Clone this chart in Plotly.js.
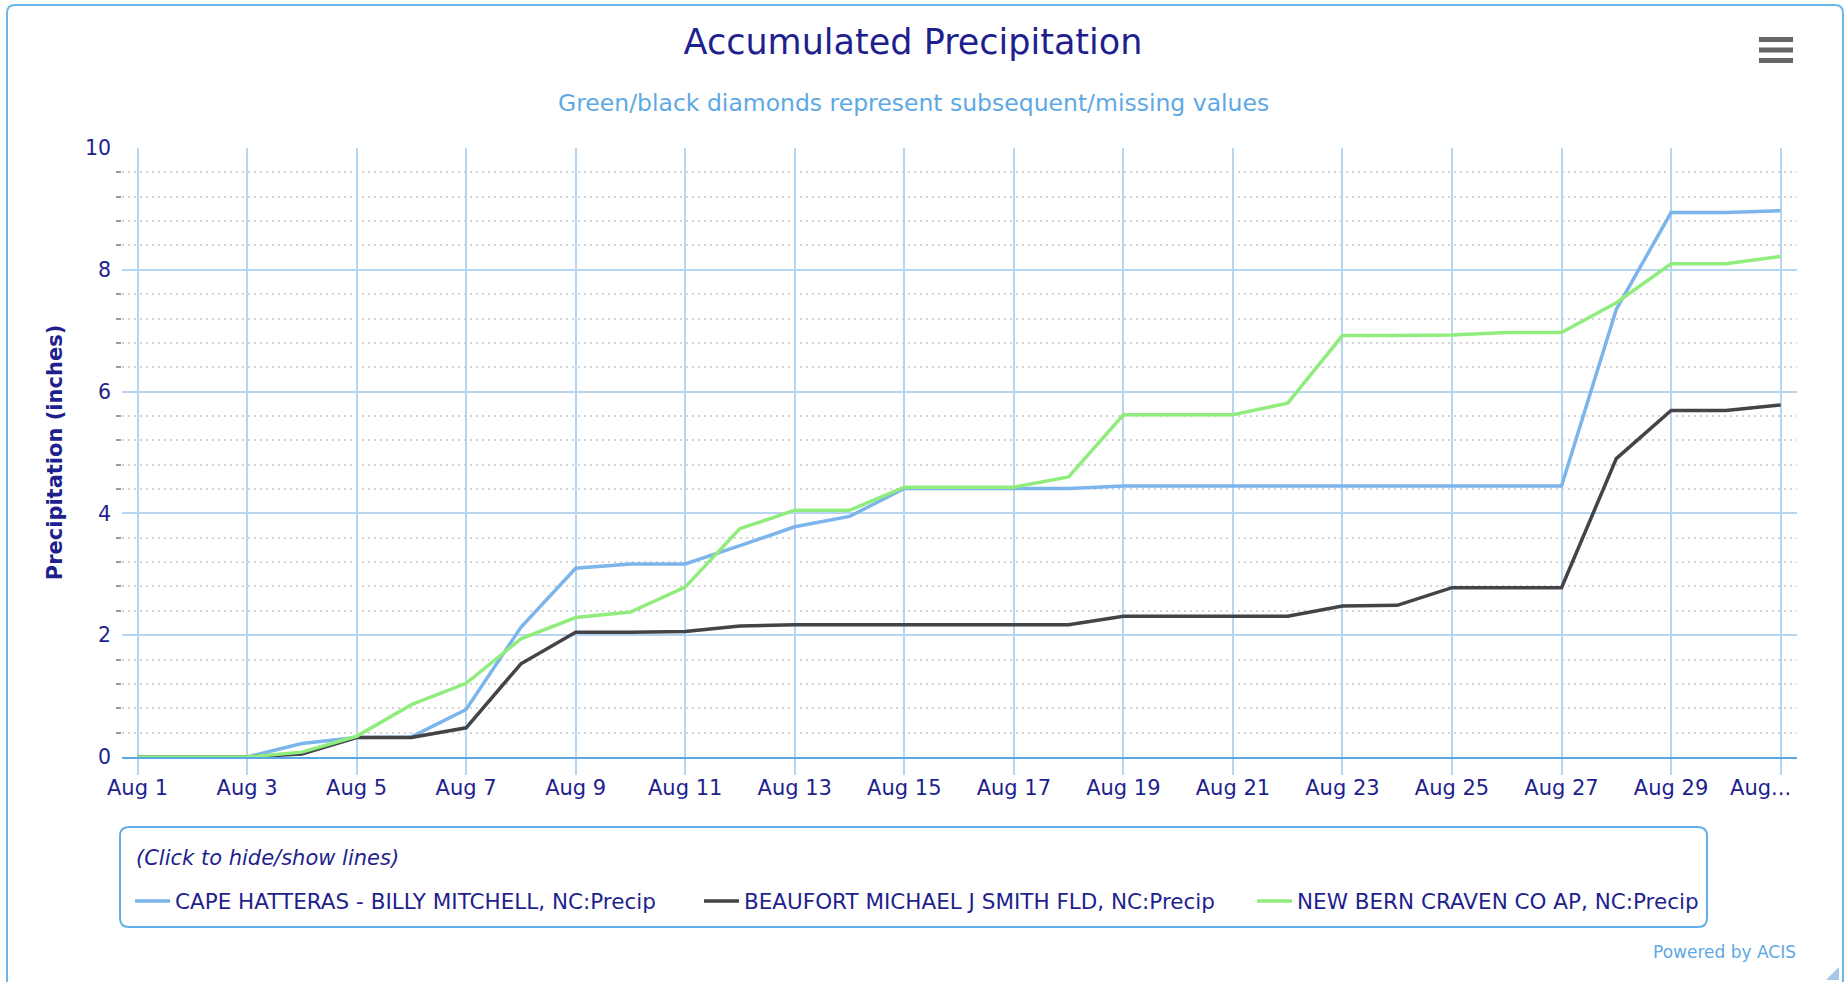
<!DOCTYPE html>
<html>
<head>
<meta charset="utf-8">
<script src="https://cdn.plot.ly/plotly-3.0.1.min.js"></script>
<style>
  html, body { margin: 0; padding: 0; background: #ffffff; }
  #chart { width: 1845px; height: 982px; }
</style>
</head>
<body>
<div id="chart"></div>
<script>
// ---------------- data ----------------
const dates = [
  '2023-08-01','2023-08-02','2023-08-03','2023-08-04','2023-08-05','2023-08-06','2023-08-07','2023-08-08',
  '2023-08-09','2023-08-10','2023-08-11','2023-08-12','2023-08-13','2023-08-14','2023-08-15','2023-08-16',
  '2023-08-17','2023-08-18','2023-08-19','2023-08-20','2023-08-21','2023-08-22','2023-08-23','2023-08-24',
  '2023-08-25','2023-08-26','2023-08-27','2023-08-28','2023-08-29','2023-08-30','2023-08-31'
];
const capeHatteras = [
  0, 0, 0, 0.22, 0.32, 0.33, 0.78, 2.13,
  3.10, 3.17, 3.17, 3.47, 3.78, 3.95, 4.41, 4.41,
  4.41, 4.41, 4.45, 4.45, 4.45, 4.45, 4.45, 4.45,
  4.45, 4.45, 4.45, 7.35, 8.94, 8.94, 8.97
];
const beaufort = [
  0, 0, 0, 0.05, 0.32, 0.32, 0.48, 1.53,
  2.05, 2.05, 2.06, 2.15, 2.17, 2.17, 2.17, 2.17,
  2.17, 2.17, 2.31, 2.31, 2.31, 2.31, 2.48, 2.49,
  2.78, 2.78, 2.78, 4.90, 5.69, 5.69, 5.78
];
const newBern = [
  0, 0, 0, 0.08, 0.34, 0.86, 1.21, 1.94,
  2.29, 2.38, 2.79, 3.75, 4.05, 4.05, 4.43, 4.43,
  4.43, 4.60, 5.62, 5.62, 5.62, 5.81, 6.92, 6.92,
  6.93, 6.97, 6.97, 7.46, 8.10, 8.10, 8.22
];
const seriesNames = [
  'CAPE HATTERAS - BILLY MITCHELL, NC:Precip',
  'BEAUFORT MICHAEL J SMITH FLD, NC:Precip',
  'NEW BERN CRAVEN CO AP, NC:Precip'
];
const tickDates = [
  '2023-08-01','2023-08-03','2023-08-05','2023-08-07','2023-08-09','2023-08-11','2023-08-13','2023-08-15',
  '2023-08-17','2023-08-19','2023-08-21','2023-08-23','2023-08-25','2023-08-27','2023-08-29','2023-08-31'
];
const tickLabels = [
  'Aug 1','Aug 3','Aug 5','Aug 7','Aug 9','Aug 11','Aug 13','Aug 15',
  'Aug 17','Aug 19','Aug 21','Aug 23','Aug 25','Aug 27','Aug 29','Aug...'
];
const titleText = 'Accumulated Precipitation';
const subtitleText = 'Green/black diamonds represent subsequent/missing values';
const yTitleText = 'Precipitation (inches)';
const legendTitleText = '(Click to hide/show lines)';
const creditText = 'Powered by ACIS';

// ---------------- layout helpers ----------------
const W = 1845, H = 982;
const ML = 122, MR = 48, MT = 148, MB = 225;
const PW = W - ML - MR, PH = H - MT - MB;
const PB = H - MB;
const px = p => (p - ML) / PW;
const py = p => (PB - p) / PH;

const FONT = 'DejaVu Sans, Verdana, sans-serif';
const NAVY = '#1f1f8e';
const GRID = '#b6d5f1';
const colors = ['#7cb5ec', '#434348', '#90ed7d'];

// last tick label is pushed left (as the original does to keep it inside the chart)
const shownTickLabels = tickLabels.map((t, i) =>
  i === tickLabels.length - 1 ? t + '\u00a0\u00a0\u00a0\u00a0\u00a0\u00a0' : t);

const seriesData = [capeHatteras, beaufort, newBern];
const legendIds = ['legend', 'legend2', 'legend3'];
const traces = seriesData.map((vals, i) => ({
  type: 'scatter',
  mode: 'lines',
  x: dates,
  y: vals,
  name: seriesNames[i],
  legend: legendIds[i],
  line: { color: colors[i], width: 3.5 },
  hovertemplate: '%{x|%b %-d}: %{y:.2f}<extra>' + seriesNames[i] + '</extra>'
}));

function roundRectPath(x0, y0, x1, y1, r) {
  return 'M' + px(x0 + r) + ',' + py(y0) +
    ' L' + px(x1 - r) + ',' + py(y0) +
    ' Q' + px(x1) + ',' + py(y0) + ' ' + px(x1) + ',' + py(y0 + r) +
    ' L' + px(x1) + ',' + py(y1 - r) +
    ' Q' + px(x1) + ',' + py(y1) + ' ' + px(x1 - r) + ',' + py(y1) +
    ' L' + px(x0 + r) + ',' + py(y1) +
    ' Q' + px(x0) + ',' + py(y1) + ' ' + px(x0) + ',' + py(y1 - r) +
    ' L' + px(x0) + ',' + py(y0 + r) +
    ' Q' + px(x0) + ',' + py(y0) + ' ' + px(x0 + r) + ',' + py(y0) + ' Z';
}
const outerBorder = 'M' + px(7) + ',' + py(995) +
  ' L' + px(7) + ',' + py(13) +
  ' Q' + px(7) + ',' + py(5) + ' ' + px(15) + ',' + py(5) +
  ' L' + px(1835) + ',' + py(5) +
  ' Q' + px(1843) + ',' + py(5) + ' ' + px(1843) + ',' + py(13) +
  ' L' + px(1843) + ',' + py(995);

const shapes = [
  { type: 'path', xref: 'paper', yref: 'paper', path: outerBorder,
    line: { color: '#6cb6ec', width: 2 } },
  { type: 'path', xref: 'paper', yref: 'paper', path: roundRectPath(120, 827, 1707, 927, 9),
    line: { color: '#62aee9', width: 2 }, fillcolor: 'rgba(0,0,0,0)' },
  // menu icon bars
  { type: 'rect', xref: 'paper', yref: 'paper', x0: px(1759), x1: px(1793), y0: py(37), y1: py(42),
    line: { width: 0 }, fillcolor: '#666666' },
  { type: 'rect', xref: 'paper', yref: 'paper', x0: px(1759), x1: px(1793), y0: py(47.5), y1: py(52.5),
    line: { width: 0 }, fillcolor: '#666666' },
  { type: 'rect', xref: 'paper', yref: 'paper', x0: px(1759), x1: px(1793), y0: py(58), y1: py(63),
    line: { width: 0 }, fillcolor: '#666666' },
  // resize grip
  { type: 'path', xref: 'paper', yref: 'paper',
    path: 'M' + px(1839) + ',' + py(967) + ' L' + px(1839) + ',' + py(980) + ' L' + px(1826) + ',' + py(980) + ' Z',
    line: { width: 0 }, fillcolor: 'rgba(110,160,215,0.6)' }
];

const annotations = [
  { text: subtitleText, xref: 'paper', yref: 'paper', x: px(913), y: py(103.5),
    xanchor: 'center', yanchor: 'middle', showarrow: false,
    font: { family: FONT, size: 23.5, color: '#5ea8e4' } },
  { text: '<i>' + legendTitleText + '</i>', xref: 'paper', yref: 'paper', x: px(134), y: py(858),
    xanchor: 'left', yanchor: 'middle', showarrow: false,
    font: { family: FONT, size: 21, color: NAVY } },
  { text: creditText, xref: 'paper', yref: 'paper', x: px(1798), y: py(952),
    xanchor: 'right', yanchor: 'middle', showarrow: false,
    font: { family: FONT, size: 17, color: '#5ea8e4' } }
];

function legendAt(x) {
  return {
    orientation: 'h', x: px(x), y: py(901), xanchor: 'left', yanchor: 'middle',
    bgcolor: 'rgba(0,0,0,0)', borderwidth: 0, itemwidth: 35,
    font: { family: FONT, size: 21.5, color: NAVY }
  };
}

const layout = {
  width: W, height: H,
  margin: { l: ML, r: MR, t: MT, b: MB, pad: 0 },
  paper_bgcolor: '#ffffff', plot_bgcolor: '#ffffff',
  title: {
    text: titleText, xref: 'container', yref: 'container',
    x: 913 / W, xanchor: 'center', y: 1 - 42 / H, yanchor: 'middle',
    font: { family: FONT, size: 35, color: NAVY }
  },
  showlegend: true,
  legend: legendAt(130),
  legend2: legendAt(699),
  legend3: legendAt(1252),
  xaxis: {
    type: 'date',
    range: ['2023-07-31 17:12', '2023-08-31 07:11'],
    tickmode: 'array', tickvals: tickDates, ticktext: shownTickLabels,
    showgrid: true, gridcolor: GRID, gridwidth: 1.5,
    ticks: 'outside', ticklen: 16, tickcolor: GRID, tickwidth: 1.5,
    ticklabelstandoff: -5,
    showline: true, linecolor: '#5aa8e6', linewidth: 2,
    zeroline: false,
    tickfont: { family: FONT, size: 21, color: NAVY },
    fixedrange: true
  },
  yaxis: {
    range: [0, 10], dtick: 2, tick0: 0,
    showgrid: true, gridcolor: GRID, gridwidth: 1.5,
    zeroline: false, showline: false,
    ticks: '', ticklabelstandoff: 10,
    tickfont: { family: FONT, size: 20.5, color: NAVY },
    title: { text: yTitleText, standoff: 16,
      font: { family: FONT, size: 21, color: NAVY, weight: 'bold' } },
    minor: { dtick: 0.4, tick0: 0, showgrid: true, gridcolor: '#d4d4d4', griddash: '1.5px,4.5px',
      gridwidth: 1.5, ticks: 'outside', ticklen: 5, tickcolor: '#9a9a9a', tickwidth: 1.5 },
    fixedrange: true
  },
  shapes: shapes,
  annotations: annotations,
  hovermode: 'closest'
};

Plotly.newPlot('chart', traces, layout, { displayModeBar: false, responsive: false });
</script>
</body>
</html>
